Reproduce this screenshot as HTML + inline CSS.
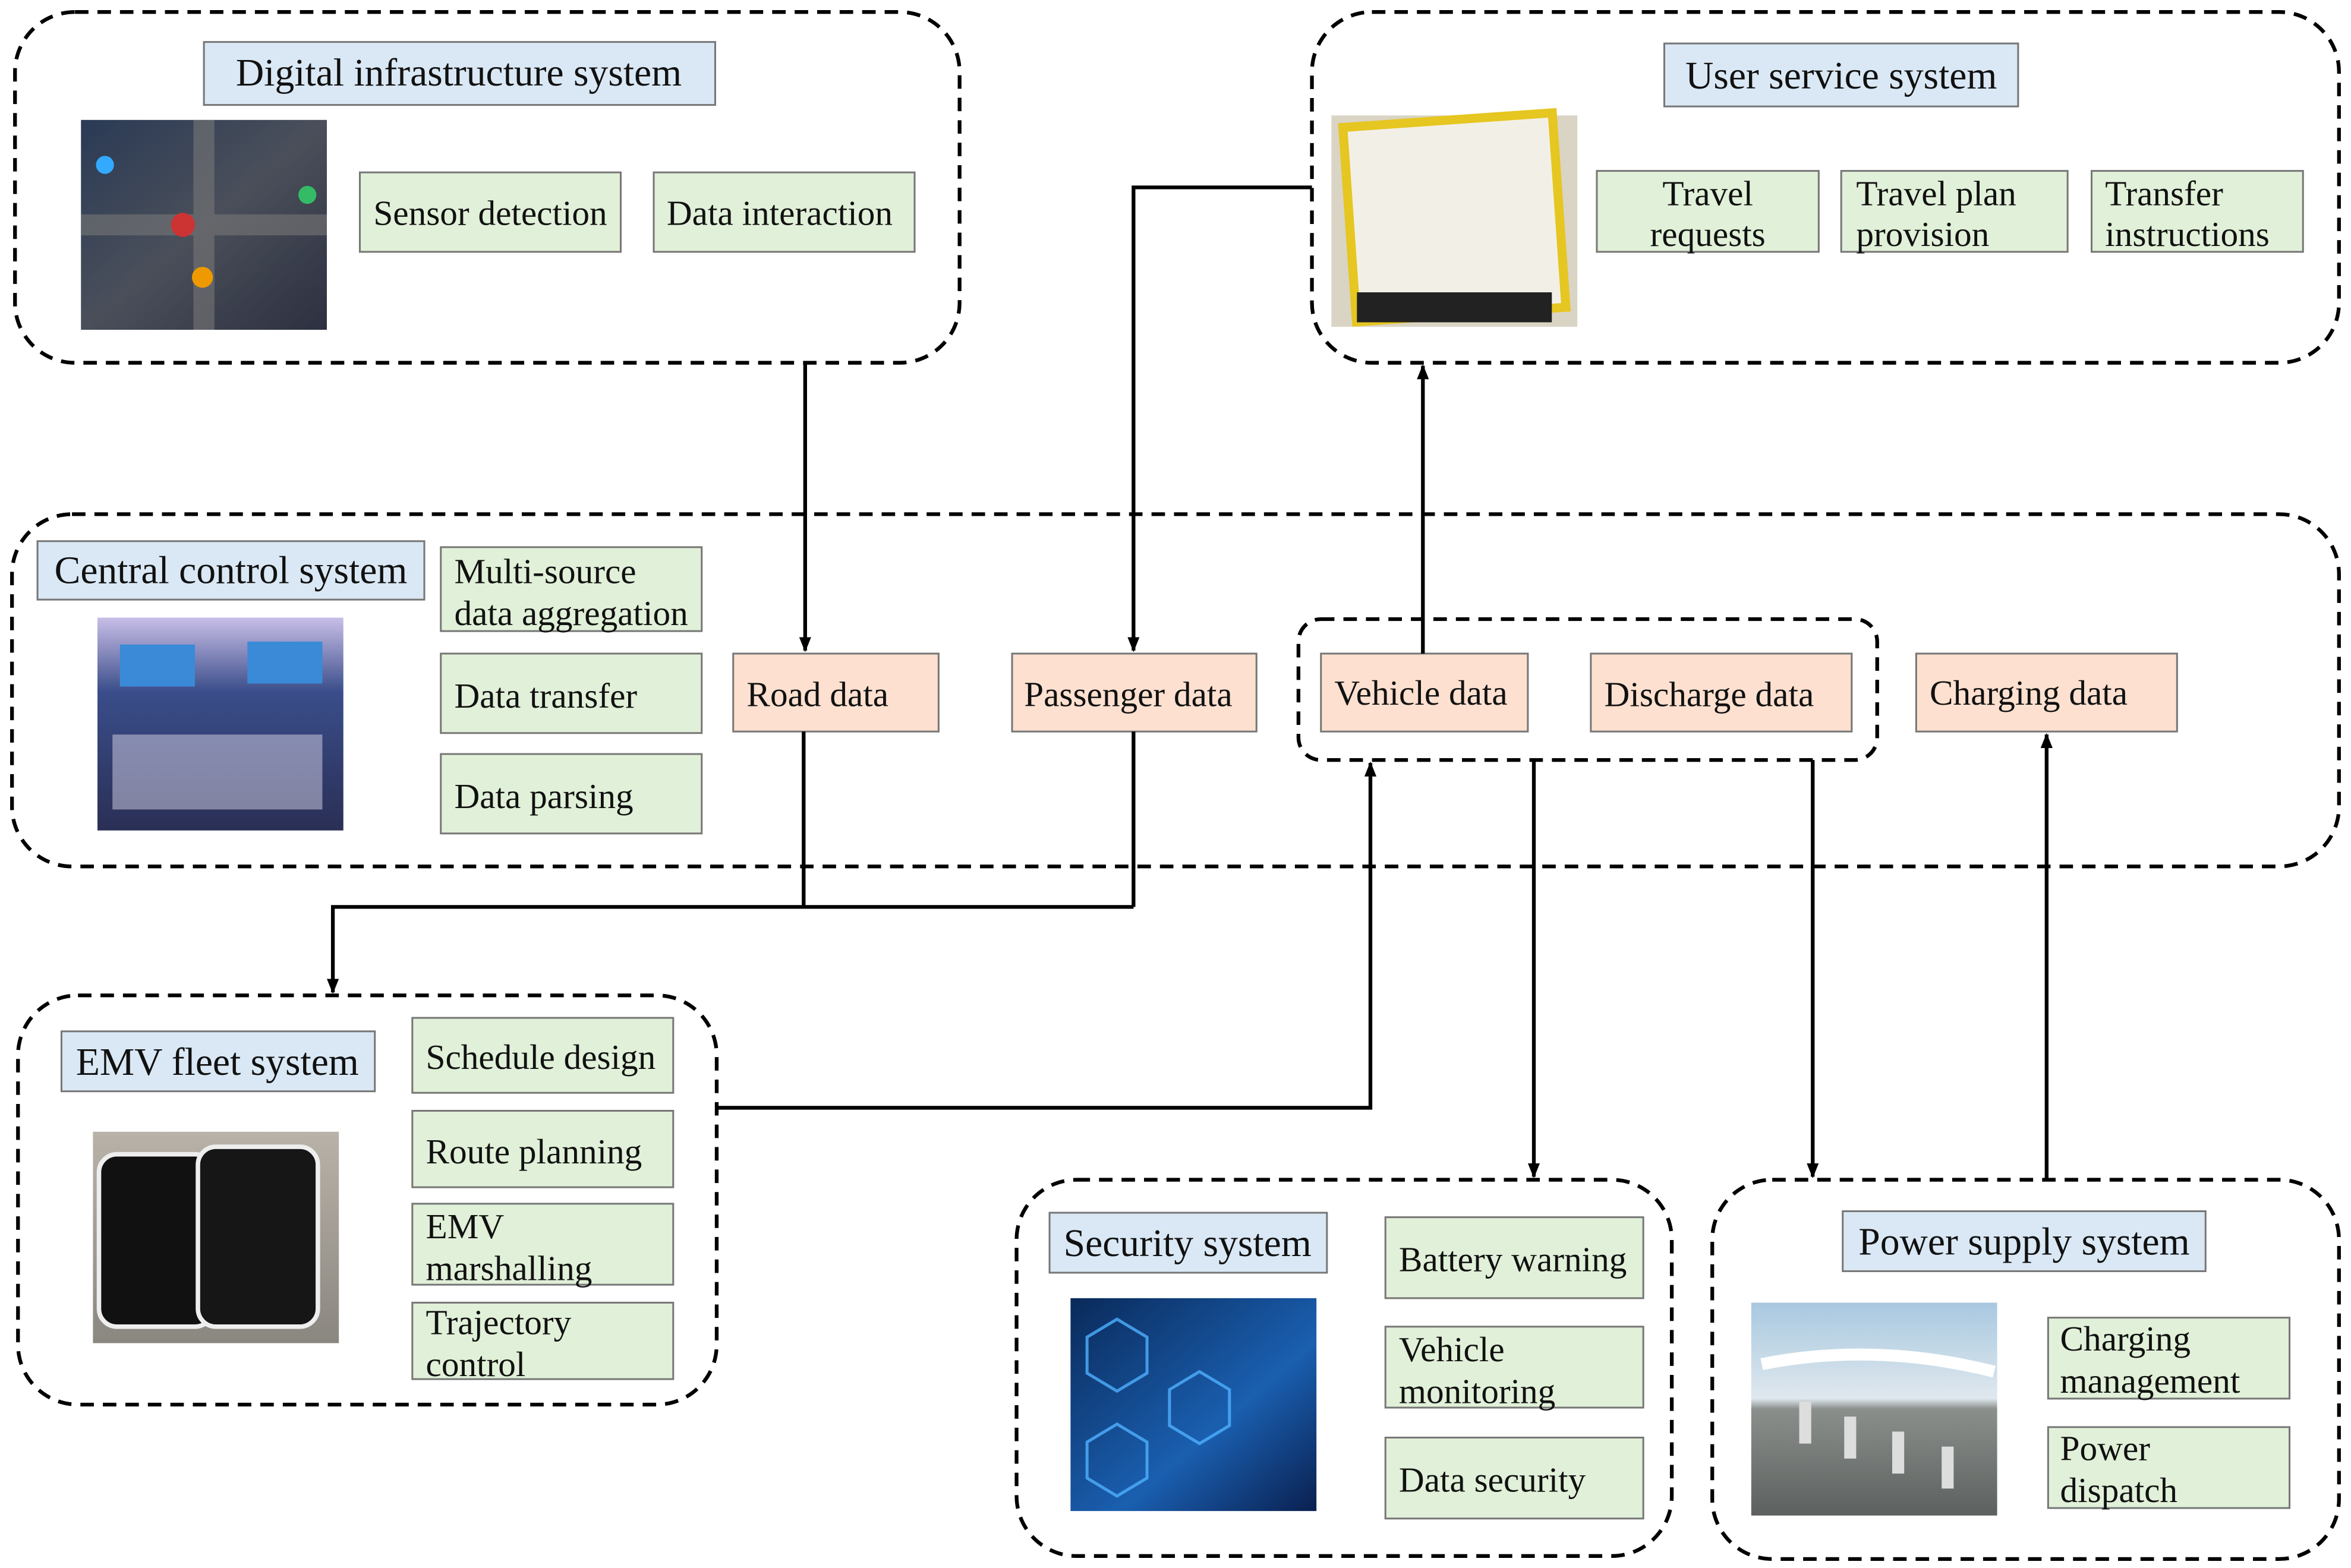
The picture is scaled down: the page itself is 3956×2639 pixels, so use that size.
<!DOCTYPE html>
<html><head><meta charset="utf-8"><style>html,body{margin:0;padding:0;background:#fff}svg{display:block}</style></head>
<body>
<svg xmlns="http://www.w3.org/2000/svg" width="3956" height="2639" viewBox="0 0 1568 1046" font-family="Liberation Serif, serif" font-size="23.5">
<defs>
<marker id="ah" markerWidth="10" markerHeight="10" refX="9" refY="5" orient="auto" markerUnits="userSpaceOnUse"><path d="M0,1 L10,5 L0,9 z" fill="#000"/></marker>
<linearGradient id="gDig" x1="0" y1="0" x2="1" y2="1"><stop offset="0" stop-color="#2a3a55"/><stop offset="0.5" stop-color="#4a4f5a"/><stop offset="1" stop-color="#2c3040"/></linearGradient>
<linearGradient id="gCen" x1="0" y1="0" x2="0" y2="1"><stop offset="0" stop-color="#c9bfe8"/><stop offset="0.35" stop-color="#3a4d8a"/><stop offset="1" stop-color="#2a2f55"/></linearGradient>
<linearGradient id="gSec" x1="0" y1="0" x2="1" y2="1"><stop offset="0" stop-color="#0a2a5a"/><stop offset="0.6" stop-color="#1a5fb0"/><stop offset="1" stop-color="#0a2050"/></linearGradient>
<linearGradient id="gPow" x1="0" y1="0" x2="0" y2="1"><stop offset="0" stop-color="#a8c8e0"/><stop offset="0.45" stop-color="#dfe8ee"/><stop offset="0.5" stop-color="#8a8f8c"/><stop offset="1" stop-color="#5c605e"/></linearGradient>
<linearGradient id="gEmv" x1="0" y1="0" x2="0" y2="1"><stop offset="0" stop-color="#b9b2a8"/><stop offset="1" stop-color="#8a8680"/></linearGradient>
</defs>
<g fill="none" stroke="#000" stroke-width="2.5" stroke-dasharray="9,6">
<rect x="10" y="8" width="630" height="234" rx="40"/>
<rect x="875" y="8" width="685" height="234" rx="40"/>
<rect x="8" y="343" width="1552" height="235" rx="40"/>
<rect x="866" y="413" width="386" height="94" rx="15"/>
<rect x="12" y="664" width="466" height="273" rx="40"/>
<rect x="678" y="787" width="437" height="251" rx="40"/>
<rect x="1142" y="787" width="418" height="253" rx="40"/>
</g>
<g stroke="#777" stroke-width="1.2" fill="#dae8f5">
<rect x="136" y="28" width="341" height="42"/>
<rect x="1110" y="29" width="236" height="42"/>
<rect x="25" y="361" width="258" height="39"/>
<rect x="41" y="688" width="209" height="40"/>
<rect x="700" y="809" width="185" height="40"/>
<rect x="1229" y="808" width="242" height="40"/>
</g>
<g stroke="#777" stroke-width="1.2" fill="#e1f0d8">
<rect x="240" y="115" width="174" height="53"/><rect x="436" y="115" width="174" height="53"/>
<rect x="1065" y="114" width="148" height="54"/><rect x="1228" y="114" width="151" height="54"/><rect x="1395" y="114" width="141" height="54"/>
<rect x="294" y="365" width="174" height="56"/><rect x="294" y="436" width="174" height="53"/><rect x="294" y="503" width="174" height="53"/>
<rect x="275" y="679" width="174" height="50"/><rect x="275" y="741" width="174" height="51"/><rect x="275" y="803" width="174" height="54"/><rect x="275" y="869" width="174" height="51"/>
<rect x="924" y="812" width="172" height="54"/><rect x="924" y="885" width="172" height="54"/><rect x="924" y="959" width="172" height="54"/>
<rect x="1366" y="879" width="161" height="54"/><rect x="1366" y="952" width="161" height="54"/>
</g>
<g stroke="#777" stroke-width="1.2" fill="#fde0cf">
<rect x="489" y="436" width="137" height="52"/><rect x="675" y="436" width="163" height="52"/>
<rect x="881" y="436" width="138" height="52"/><rect x="1061" y="436" width="174" height="52"/><rect x="1278" y="436" width="174" height="52"/>
</g>
<!-- images -->
<rect x="54" y="80" width="164" height="140" fill="url(#gDig)"/>
<path d="M54,150 L218,150 M136,80 L136,220" stroke="#777" stroke-width="14" opacity="0.6"/>
<circle cx="122" cy="150" r="8" fill="#c33"/><circle cx="205" cy="130" r="6" fill="#3b6"/><circle cx="135" cy="185" r="7" fill="#e90"/><circle cx="70" cy="110" r="6" fill="#3af"/>
<rect x="888" y="77" width="164" height="141" fill="#d9d4c4"/>
<rect x="900" y="80" width="140" height="130" fill="#f2f0e6" stroke="#e6c620" stroke-width="6" transform="rotate(-4 970 145)"/>
<rect x="905" y="195" width="130" height="20" fill="#222"/>
<rect x="65" y="412" width="164" height="142" fill="url(#gCen)"/>
<rect x="80" y="430" width="50" height="28" fill="#3a8ad8"/><rect x="165" y="428" width="50" height="28" fill="#3a8ad8"/>
<rect x="75" y="490" width="140" height="50" fill="#d8d4e8" opacity="0.5"/>
<rect x="62" y="755" width="164" height="141" fill="url(#gEmv)"/>
<rect x="66" y="770" width="76" height="115" rx="12" fill="#111" stroke="#eee" stroke-width="3"/>
<rect x="132" y="765" width="80" height="120" rx="12" fill="#161616" stroke="#eee" stroke-width="3"/>
<rect x="714" y="866" width="164" height="142" fill="url(#gSec)"/>
<g fill="none" stroke="#4fb0ff" stroke-width="2" opacity="0.8"><path d="M745,880 l20,12 v24 l-20,12 l-20,-12 v-24z"/><path d="M745,950 l20,12 v24 l-20,12 l-20,-12 v-24z"/><path d="M800,915 l20,12 v24 l-20,12 l-20,-12 v-24z"/></g>
<rect x="1168" y="869" width="164" height="142" fill="url(#gPow)"/>
<path d="M1175,910 Q1250,895 1330,915" stroke="#fff" stroke-width="8" fill="none"/>
<g fill="#ddd"><rect x="1200" y="935" width="8" height="28"/><rect x="1230" y="945" width="8" height="28"/><rect x="1262" y="955" width="8" height="28"/><rect x="1295" y="965" width="8" height="28"/></g>
<!-- text -->
<g fill="#111" font-size="26">
<text x="306" y="57" text-anchor="middle">Digital infrastructure system</text>
<text x="1228" y="59" text-anchor="middle">User service system</text>
<text x="154" y="389" text-anchor="middle">Central control system</text>
<text x="145" y="717" text-anchor="middle">EMV fleet system</text>
<text x="792" y="838" text-anchor="middle">Security system</text>
<text x="1350" y="837" text-anchor="middle">Power supply system</text>
</g>
<g fill="#111">
<text x="327" y="150" text-anchor="middle">Sensor detection</text>
<text x="520" y="150" text-anchor="middle">Data interaction</text>
<text x="1139" y="137" text-anchor="middle">Travel</text><text x="1139" y="164" text-anchor="middle">requests</text>
<text x="1238" y="137">Travel plan</text><text x="1238" y="164">provision</text>
<text x="1404" y="137">Transfer</text><text x="1404" y="164">instructions</text>
<text x="303" y="389">Multi-source</text><text x="303" y="417">data aggregation</text>
<text x="303" y="472">Data transfer</text>
<text x="303" y="539">Data parsing</text>
<text x="498" y="471">Road data</text>
<text x="683" y="471">Passenger data</text>
<text x="890" y="470">Vehicle data</text>
<text x="1070" y="471">Discharge data</text>
<text x="1287" y="470">Charging data</text>
<text x="284" y="713">Schedule design</text>
<text x="284" y="776">Route planning</text>
<text x="284" y="826">EMV</text><text x="284" y="854">marshalling</text>
<text x="284" y="890">Trajectory</text><text x="284" y="918">control</text>
<text x="933" y="848">Battery warning</text>
<text x="933" y="908">Vehicle</text><text x="933" y="936">monitoring</text>
<text x="933" y="995">Data security</text>
<text x="1374" y="901">Charging</text><text x="1374" y="929">management</text>
<text x="1374" y="974">Power</text><text x="1374" y="1002">dispatch</text>
</g>
<!-- connectors -->
<g fill="none" stroke="#000" stroke-width="2.5">
<path d="M537,242 V434" marker-end="url(#ah)"/>
<path d="M875,125 H756 V434" marker-end="url(#ah)"/>
<path d="M949,436 V244" marker-end="url(#ah)"/>
<path d="M536,488 V605 M756,488 V605 M756,605 H222 V662" marker-end="url(#ah)"/>
<path d="M478,739 H914 V509" marker-end="url(#ah)"/>
<path d="M1023,507 V785" marker-end="url(#ah)"/>
<path d="M1209,507 V785" marker-end="url(#ah)"/>
<path d="M1365,787 V490" marker-end="url(#ah)"/>
</g>
</svg>
</body></html>
